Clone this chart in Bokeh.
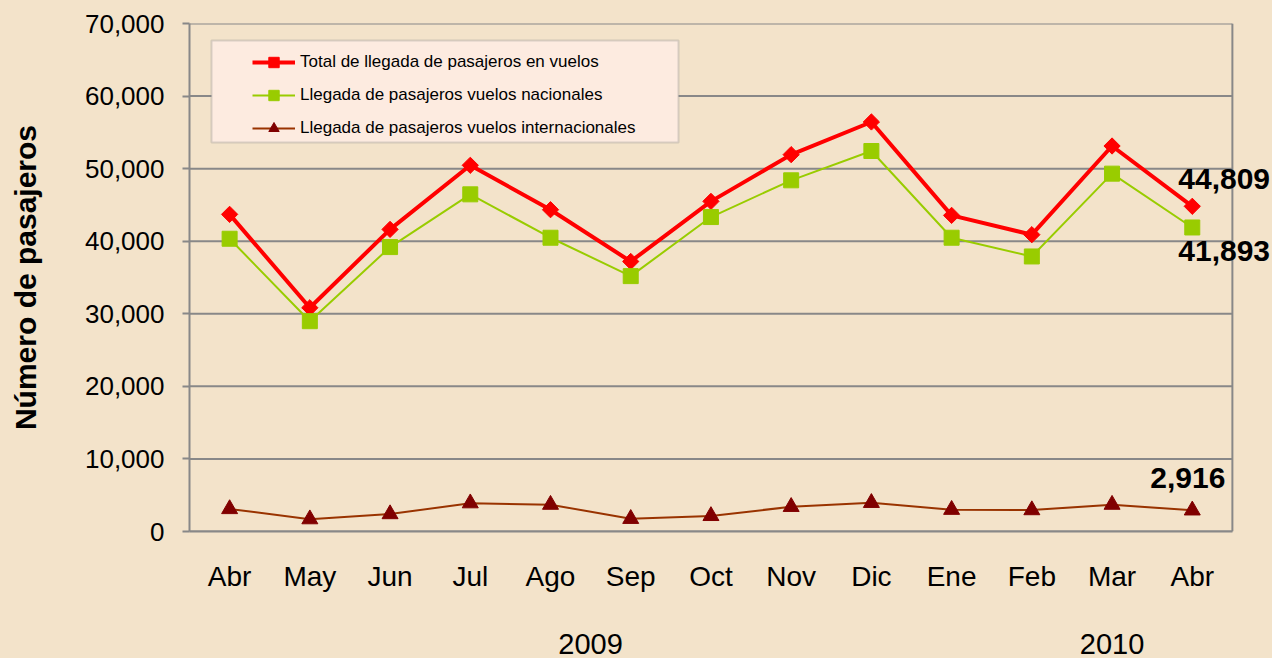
import numpy as np
from bokeh.plotting import figure
from bokeh.layouts import column
from bokeh.models import (Range1d, FixedTicker, NumeralTickFormatter, Legend, LegendItem,
                          Label, BoxAnnotation, ColumnDataSource, Span)
from bokeh.embed import file_html
from bokeh.resources import INLINE

# ---- data ----
months = ["Abr", "May", "Jun", "Jul", "Ago", "Sep", "Oct", "Nov", "Dic", "Ene", "Feb", "Mar", "Abr"]
total = [43700, 30830, 41630, 50460, 44340, 37210, 45490, 51930, 56430, 43560, 40900, 53120, 44809]
nacionales = [40340, 28980, 39190, 46460, 40480, 35190, 43330, 48390, 52430, 40480, 37900, 49310, 41893]
internacionales = [3100, 1700, 2400, 3900, 3700, 1750, 2150, 3400, 3950, 3000, 2950, 3700, 2916]
years = ["2009", "2010"]
year_pos = [4.5, 11.0]
y_ticks = [0, 10000, 20000, 30000, 40000, 50000, 60000, 70000]
series_names = ["Total de llegada de pasajeros en vuelos",
                "Llegada de pasajeros vuelos nacionales",
                "Llegada de pasajeros vuelos internacionales"]

FONT = "Liberation Sans"
BG = "#F3E3CA"
GRID = "#888888"

idx = list(range(len(months)))
x_lo, x_hi = -0.5, len(months) - 0.5          # category band edges
src = ColumnDataSource(dict(x=idx, total=total, nac=nacionales, intl=internacionales))

x_range = Range1d(x_lo, x_hi + 0.5)            # extra room on the right for value labels

p = figure(width=1272, height=620, output_backend="svg", toolbar_location=None,
           x_range=x_range, y_range=Range1d(y_ticks[0], y_ticks[-1]),
           min_border_left=189, min_border_right=0, min_border_top=23, min_border_bottom=89)
p.background_fill_color = BG
p.border_fill_color = BG
p.outline_line_color = None

# axes
p.xaxis.ticker = FixedTicker(ticks=idx)
p.xaxis.major_label_overrides = {i: m for i, m in zip(idx, months)}
p.xaxis.bounds = (x_lo, x_hi)
p.xaxis.major_tick_line_color = None
p.xaxis.minor_tick_line_color = None
p.xaxis.axis_line_color = GRID
p.xaxis.axis_line_width = 2
p.xaxis.major_label_text_font = FONT
p.xaxis.major_label_text_font_size = "28px"
p.xaxis.major_label_text_color = "black"
p.xaxis.major_label_standoff = 23

p.yaxis.ticker = FixedTicker(ticks=y_ticks)
p.yaxis.formatter = NumeralTickFormatter(format="0,0")
p.yaxis.minor_tick_line_color = None
p.yaxis.major_tick_in = 0
p.yaxis.major_tick_out = 7
p.yaxis.major_tick_line_color = GRID
p.yaxis.major_tick_line_width = 2
p.yaxis.axis_line_color = GRID
p.yaxis.axis_line_width = 2
p.yaxis.major_label_text_font = FONT
p.yaxis.major_label_text_font_size = "26px"
p.yaxis.major_label_text_color = "black"
p.yaxis.major_label_standoff = 18
p.yaxis.axis_label = "Número de pasajeros"
p.yaxis.axis_label_text_font = FONT
p.yaxis.axis_label_text_font_size = "30px"
p.yaxis.axis_label_text_font_style = "bold"
p.yaxis.axis_label_text_color = "black"
p.yaxis.axis_label_standoff = 40

# horizontal grid lines limited to the category area, plus right border
p.xgrid.visible = False
p.ygrid.visible = False
p.segment(x0=[x_lo] * len(y_ticks), x1=[x_hi] * len(y_ticks), y0=y_ticks, y1=y_ticks,
          line_color=GRID, line_width=2, level="underlay")
p.add_layout(Span(location=x_hi, dimension="height", line_color=GRID, line_width=2))

# series
r_tot_l = p.line("x", "total", source=src, line_color="#FF0000", line_width=4)
r_tot_m = p.scatter("x", "total", source=src, marker="square", angle=np.pi / 4, size=11.5,
                    fill_color="#FF0000", line_color="#FF0000")
r_nac_l = p.line("x", "nac", source=src, line_color="#99CC00", line_width=2)
r_nac_m = p.scatter("x", "nac", source=src, marker="square", size=15,
                    fill_color="#99CC00", line_color="#99CC00")
r_int_l = p.line("x", "intl", source=src, line_color="#993300", line_width=2)
r_int_m = p.scatter("x", "intl", source=src, marker="triangle", size=16,
                    fill_color="#800000", line_color="#800000")

# legend box
box = BoxAnnotation(left=22, right=489, top=491, bottom=389,
                    left_units="screen", right_units="screen", top_units="screen", bottom_units="screen",
                    fill_color="#FDEBE0", fill_alpha=1.0, line_color=GRID, line_width=2)
p.add_layout(box)

legend = Legend(items=[LegendItem(label=series_names[0], renderers=[r_tot_l, r_tot_m]),
                       LegendItem(label=series_names[1], renderers=[r_nac_l, r_nac_m]),
                       LegendItem(label=series_names[2], renderers=[r_int_l, r_int_m])],
                location=(63, 390), padding=4, spacing=7, glyph_width=43, glyph_height=26,
                label_standoff=5, label_text_font=FONT, label_text_font_size="17px",
                label_text_color="black", background_fill_alpha=0, border_line_color=None,
                margin=0)
p.add_layout(legend)

# end labels
last = idx[-1]
for val, dy, dx in [(total[-1], 27, -14), (nacionales[-1], -24, -14), (internacionales[-1], 32, -42)]:
    p.add_layout(Label(x=last, y=val, text=f"{val:,}", x_offset=dx, y_offset=dy,
                       text_font=FONT, text_font_size="30px", text_font_style="bold",
                       text_baseline="middle", text_color="black"))

# year labels row
p2 = figure(width=1272, height=38, output_backend="svg", toolbar_location=None,
            x_range=x_range, y_range=Range1d(0, 1),
            min_border_left=189, min_border_right=0, min_border_top=0, min_border_bottom=0)
p2.axis.visible = False
p2.grid.visible = False
p2.outline_line_color = None
p2.background_fill_color = BG
p2.border_fill_color = BG
p2.text(x=year_pos, y=[0.5] * len(years), text=years, y_offset=4, text_align="center",
        text_baseline="middle", text_font={"value": FONT}, text_font_size="29px", text_color="black")

layout = column(p, p2, spacing=0)
html = file_html(layout, INLINE)
html = html.replace("<head>", "<head><style>html,body{background:%s;}</style>" % BG, 1)
open("out.html", "w").write(html)
